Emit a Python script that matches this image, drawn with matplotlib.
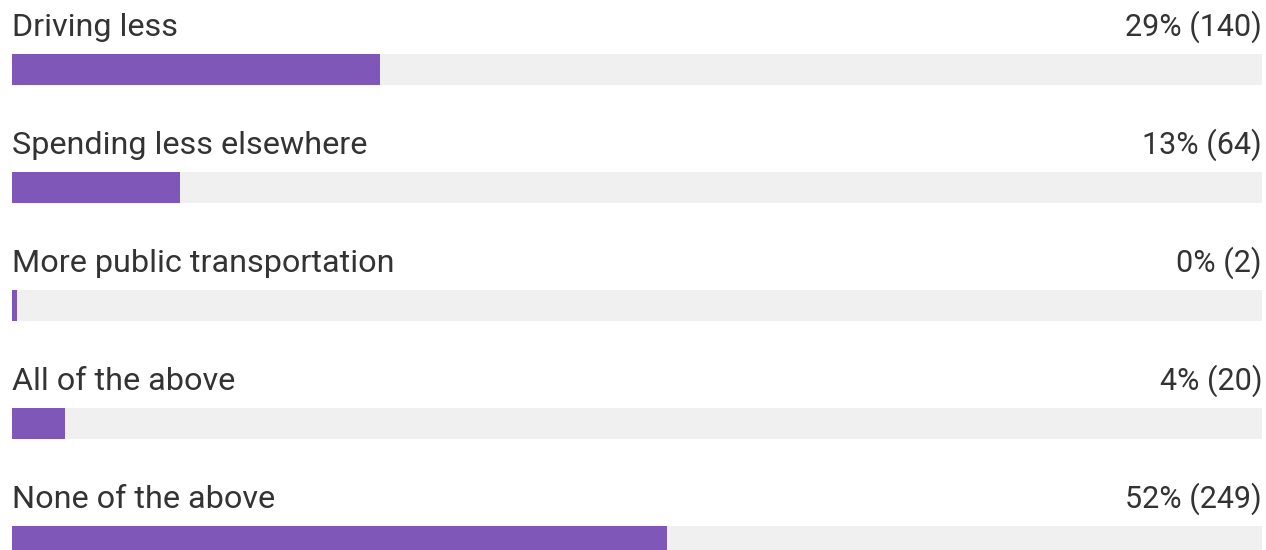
import matplotlib.pyplot as plt

# данные опроса
labels = ["Driving less", "Spending less elsewhere", "More public transportation",
          "All of the above", "None of the above"]
counts = [140, 64, 2, 20, 249]
pct_labels = ["29%", "13%", "0%", "4%", "52%"]

total = sum(counts)
purple = "#7e57b8"
track = "#f0f0f0"
text_col = "#333333"

fig = plt.figure(figsize=(12.66, 5.5), dpi=100)
ax = fig.add_axes([12 / 1266, 0, 1250 / 1266, 1])
ax.set_xlim(0, 1)
ax.set_ylim(550, 0)
ax.axis("off")

row_step = 118
for i, (lab, c, p) in enumerate(zip(labels, counts, pct_labels)):
    top = 54 + i * row_step
    ax.barh(top + 15.5, 1, height=31, left=0, color=track)
    ax.barh(top + 15.5, c / total, height=31, left=0, color=purple)
    ax.text(0, top - 18, lab, fontsize=23.3, family="Roboto", color=text_col,
            ha="left", va="baseline")
    ax.text(1, top - 18, f"{p} ({c})", fontsize=22, family="Roboto",
            color=text_col, ha="right", va="baseline")

fig.savefig("out.png", dpi=100)
